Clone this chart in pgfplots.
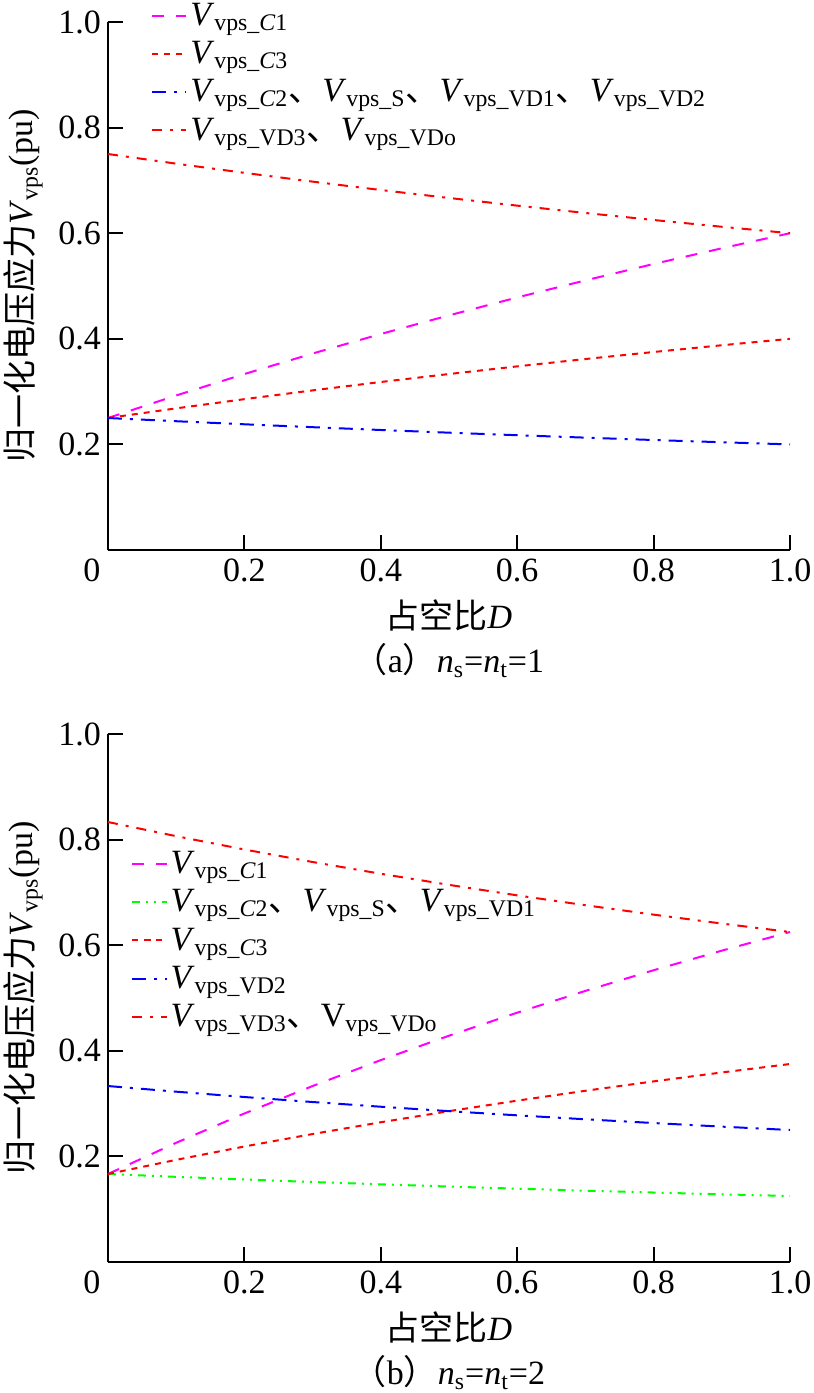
\documentclass[border=0pt]{standalone}
\usepackage{pgfplots}
\pgfplotsset{compat=1.18}
\usepackage{fontspec}
\setmainfont{Liberation Serif}
\newfontfamily\cjk{Noto Sans CJK SC}
\definecolor{mag}{RGB}{255,0,255}
\definecolor{rd}{RGB}{255,0,0}
\definecolor{bl}{RGB}{0,0,255}
\definecolor{gr}{RGB}{0,255,0}
\newcommand\Vs[1]{\textit{V}\textsubscript{vps\_#1}}
\newcommand\dun{{\cjk 、}}
\pgfplotsset{
  myaxis/.style={
    scale only axis, width=341pt, height=264pt,
    xmin=0, xmax=1, ymin=0, ymax=1,
    axis lines=left, axis line style={line width=1pt, -},
    tick align=inside, major tick length=7.5pt,
    every tick/.style={black, line width=1pt},
    xtick={0.2,0.4,0.6,0.8,1.0}, xticklabels={\textrm{0.2},\textrm{0.4},\textrm{0.6},\textrm{0.8},\textrm{1.0}},
    ytick={0.2,0.4,0.6,0.8,1.0}, yticklabels={\textrm{0.2},\textrm{0.4},\textrm{0.6},\textrm{0.8},\textrm{1.0}},
    extra x ticks={0}, extra x tick labels={\textrm{0}},
    extra x tick style={major tick length=0pt, xticklabel style={xshift=-8pt}},
    /pgf/number format/assume math mode=true,
    font=\fontsize{17}{22}\selectfont\rmfamily,
    tick label style={font=\fontsize{17}{20}\selectfont\rmfamily},
    xticklabel style={yshift=-1pt},
    ylabel={{\cjk 归一化电压应力}\textit{V}\textsubscript{vps}(pu)},
    ylabel shift=1pt,
    xlabel style={align=center, yshift=-2pt},
    clip=false,
    legend cell align=left,
    legend style={draw=none, fill=none, font=\fontsize{17}{19}\selectfont, row sep=3.5pt, nodes={inner sep=1.5pt}},
    legend image post style={line width=1pt},
  },
  lC1/.style={mag, line width=1pt, dash pattern=on 6pt off 6pt},
  lC3/.style={rd, line width=1pt, dash pattern=on 3pt off 3pt},
  lbl/.style={bl, line width=1pt, dash pattern=on 7pt off 4pt on 1.5pt off 4pt},
  lVD3/.style={rd, line width=1pt, dash pattern=on 5pt off 4pt on 1.5pt off 4pt},
  lgr/.style={gr, line width=1pt, dash pattern=on 4pt off 3pt on 1pt off 3pt on 1pt off 3pt},
}
\begin{document}
\begin{tikzpicture}
\path[use as bounding box] (-54pt,-421.5pt) rectangle (353pt,275pt);
\begin{axis}[myaxis, at={(0pt,0pt)}, anchor=origin,
  xlabel={{\cjk 占空比}\textit{D}\\{\cjk （}a{\cjk ）}\textit{n}\textsubscript{s}=\textit{n}\textsubscript{t}=1},
  legend style={at={(rel axis cs:0.054,1.05)}, anchor=north west}]
\addplot[lC1] coordinates {(0,0.25) (0.1,0.2927) (0.2,0.3333) (0.3,0.3721) (0.4,0.4091) (0.5,0.4444) (0.6,0.4783) (0.7,0.5106) (0.8,0.5417) (0.9,0.5714) (1.0,0.6)};
\addlegendentry{\Vs{\textit{C}1}}
\addplot[lC3] coordinates {(0,0.25) (0.1,0.2683) (0.2,0.2857) (0.3,0.3023) (0.4,0.3182) (0.5,0.3333) (0.6,0.3478) (0.7,0.3617) (0.8,0.375) (0.9,0.3878) (1.0,0.4)};
\addlegendentry{\Vs{\textit{C}3}}
\addplot[lbl] coordinates {(0,0.25) (0.1,0.2439) (0.2,0.2381) (0.3,0.2326) (0.4,0.2273) (0.5,0.2222) (0.6,0.2174) (0.7,0.2128) (0.8,0.2083) (0.9,0.2041) (1.0,0.2)};
\addlegendentry{\Vs{\textit{C}2}\dun\Vs{S}\dun\Vs{VD1}\dun\Vs{VD2}}
\addplot[lVD3] coordinates {(0,0.75) (0.1,0.7317) (0.2,0.7143) (0.3,0.6977) (0.4,0.6818) (0.5,0.6667) (0.6,0.6522) (0.7,0.6383) (0.8,0.625) (0.9,0.6122) (1.0,0.6)};
\addlegendentry{\Vs{VD3}\dun\Vs{VDo}}
\end{axis}
\begin{axis}[myaxis, at={(0pt,-356pt)}, anchor=origin,
  xlabel={{\cjk 占空比}\textit{D}\\{\cjk （}b{\cjk ）}\textit{n}\textsubscript{s}=\textit{n}\textsubscript{t}=2},
  legend style={at={(rel axis cs:0.025,0.792)}, anchor=north west}]
\addplot[lC1] coordinates {(0,0.1667) (0.1,0.2258) (0.2,0.2813) (0.3,0.3333) (0.4,0.3824) (0.5,0.4286) (0.6,0.4722) (0.7,0.5135) (0.8,0.5526) (0.9,0.5897) (1.0,0.625)};
\addlegendentry{\Vs{\textit{C}1}}
\addplot[lgr] coordinates {(0,0.1667) (0.1,0.1613) (0.2,0.1563) (0.3,0.1515) (0.4,0.1471) (0.5,0.1429) (0.6,0.1389) (0.7,0.1351) (0.8,0.1316) (0.9,0.1282) (1.0,0.125)};
\addlegendentry{\Vs{\textit{C}2}\dun\Vs{S}\dun\Vs{VD1}}
\addplot[lC3] coordinates {(0,0.1667) (0.1,0.1935) (0.2,0.2188) (0.3,0.2424) (0.4,0.2647) (0.5,0.2857) (0.6,0.3056) (0.7,0.3243) (0.8,0.3421) (0.9,0.3590) (1.0,0.375)};
\addlegendentry{\Vs{\textit{C}3}}
\addplot[lbl] coordinates {(0,0.3333) (0.1,0.3226) (0.2,0.3125) (0.3,0.3030) (0.4,0.2941) (0.5,0.2857) (0.6,0.2778) (0.7,0.2703) (0.8,0.2632) (0.9,0.2564) (1.0,0.25)};
\addlegendentry{\Vs{VD2}}
\addplot[lVD3] coordinates {(0,0.8333) (0.1,0.8065) (0.2,0.7813) (0.3,0.7576) (0.4,0.7353) (0.5,0.7143) (0.6,0.6944) (0.7,0.6757) (0.8,0.6579) (0.9,0.6410) (1.0,0.625)};
\addlegendentry{\Vs{VD3}\dun V\textsubscript{vps\_VDo}}
\end{axis}
\end{tikzpicture}
\end{document}
